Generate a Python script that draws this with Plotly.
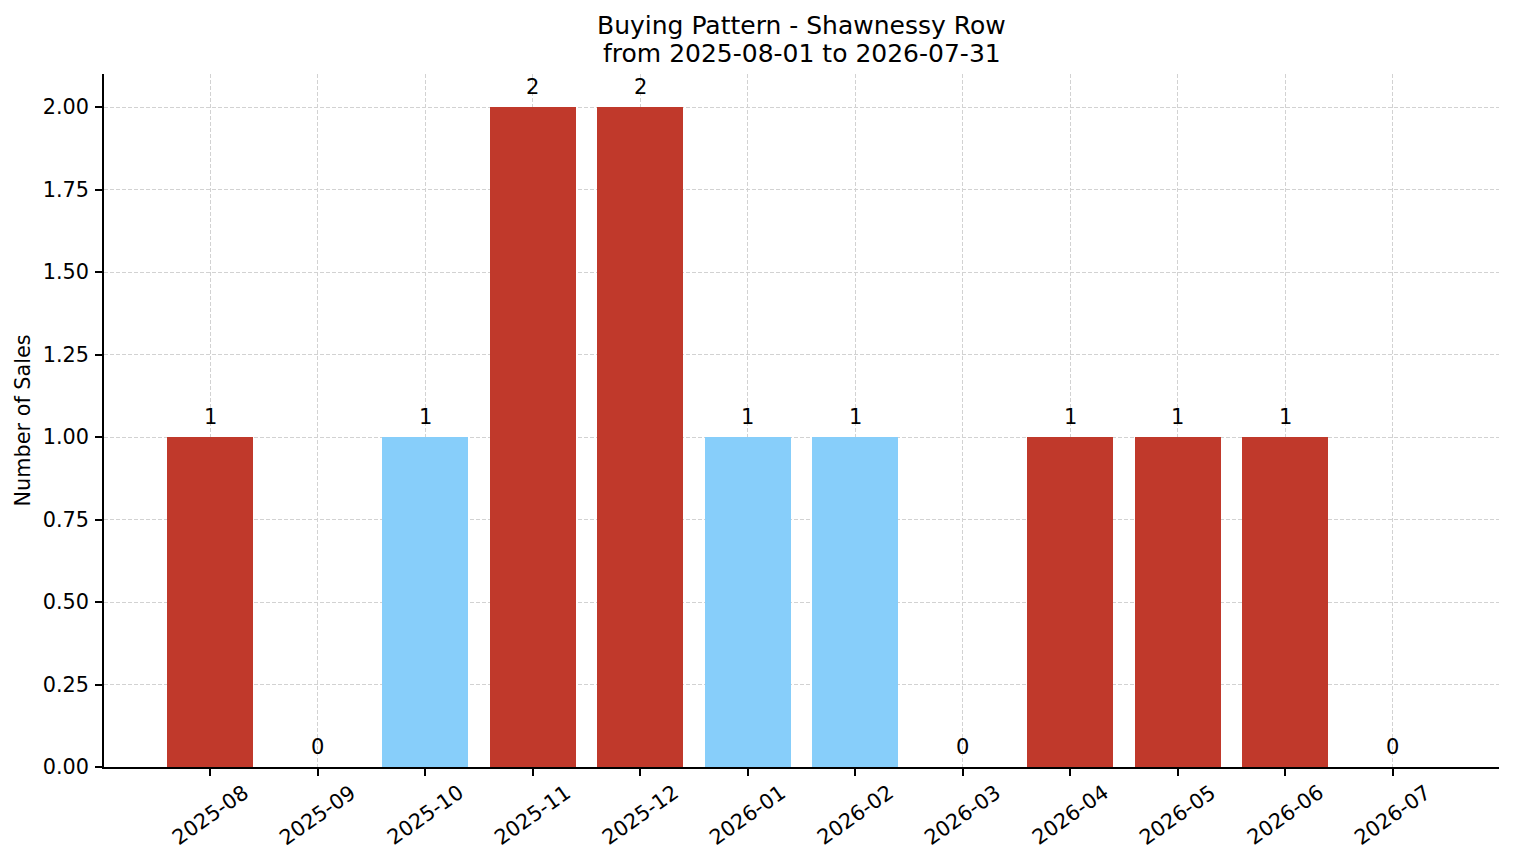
import plotly.graph_objects as go

months = ["2025-08", "2025-09", "2025-10", "2025-11", "2025-12", "2026-01",
          "2026-02", "2026-03", "2026-04", "2026-05", "2026-06", "2026-07"]
sales = [1, 0, 1, 2, 2, 1, 1, 0, 1, 1, 1, 0]
bar_colors = ["#c0392b", "#c0392b", "#87cefa", "#c0392b", "#c0392b", "#87cefa",
              "#87cefa", "#c0392b", "#c0392b", "#c0392b", "#c0392b", "#c0392b"]
y_ticks = [0, 0.25, 0.5, 0.75, 1.0, 1.25, 1.5, 1.75, 2.0]
title_line1 = "Buying Pattern - Shawnessy Row"
title_line2 = "from 2025-08-01 to 2026-07-31"
y_title = "Number of Sales"

FONT = "DejaVu Sans"
W, H = 1514, 863
L, R, T, B = 104, 15, 74, 96
plot_w = W - L - R
plot_h = H - T - B
GRID = "#d2d2d2"
GRID_DASH = "4px,2px"


def py(p):
    """pixel row from top -> paper y"""
    return (H - B - p) / plot_h


xs = list(range(len(months)))

fig = go.Figure()
fig.add_trace(go.Bar(
    x=xs, y=sales, width=0.8,
    marker=dict(color=bar_colors, line=dict(width=0)),
    hoverinfo="skip", showlegend=False,
))

annotations = []
# bar value labels
for x, v in zip(xs, sales):
    annotations.append(dict(
        x=x, y=v, xref="x", yref="y", text=str(v), showarrow=False,
        yanchor="bottom", xanchor="center", yshift=6,
        font=dict(family=FONT, size=21, color="#000000"),
    ))
# rotated x tick labels (centered, like matplotlib)
for x, lab in zip(xs, months):
    annotations.append(dict(
        x=x, y=0, xref="x", yref="paper", text=lab, showarrow=False,
        textangle=-35, xanchor="center", yanchor="middle", yshift=-48,
        font=dict(family=FONT, size=20.8, color="#000000"),
    ))
# title
annotations.append(dict(
    x=0.5, y=py(26), xref="paper", yref="paper", text=title_line1,
    showarrow=False, xanchor="center", yanchor="middle",
    font=dict(family=FONT, size=25, color="#000000"),
))
annotations.append(dict(
    x=0.5, y=py(53), xref="paper", yref="paper", text=title_line2,
    showarrow=False, xanchor="center", yanchor="middle",
    font=dict(family=FONT, size=25, color="#000000"),
))
# y axis title
annotations.append(dict(
    x=(22 - L) / plot_w, y=0.5, xref="paper", yref="paper", text=y_title,
    showarrow=False, textangle=-90, xanchor="center", yanchor="middle",
    font=dict(family=FONT, size=20.8, color="#000000"),
))

fig.update_layout(
    width=W, height=H,
    margin=dict(l=L, r=R, t=T, b=B, pad=0),
    paper_bgcolor="white", plot_bgcolor="white",
    font=dict(family=FONT, size=20.8, color="#000000"),
    annotations=annotations,
    bargap=0,
)
fig.update_xaxes(
    range=[-0.99, len(months) - 1 + 0.99],
    tickmode="array", tickvals=xs, ticktext=[""] * len(xs),
    showline=True, linecolor="#000000", linewidth=1.7, mirror=False,
    ticks="outside", ticklen=7, tickwidth=1.7, tickcolor="#000000",
    showgrid=True, gridcolor=GRID, gridwidth=1, griddash=GRID_DASH,
    zeroline=False, layer="above traces",
)
fig.update_yaxes(
    range=[0, 2.1],
    tickmode="array", tickvals=y_ticks, ticktext=[f"{v:.2f}" for v in y_ticks],
    showline=True, linecolor="#000000", linewidth=1.7, mirror=False,
    ticks="outside", ticklen=7, tickwidth=1.7, tickcolor="#000000",
    ticklabelstandoff=2,
    tickfont=dict(family=FONT, size=20.8, color="#000000"),
    showgrid=True, gridcolor=GRID, gridwidth=1, griddash=GRID_DASH,
    zeroline=False, layer="above traces",
)

fig.write_html(
    "out.html",
    config={"displayModeBar": False},
    post_script="document.body.style.margin='0';document.body.style.overflow='hidden';",
)
